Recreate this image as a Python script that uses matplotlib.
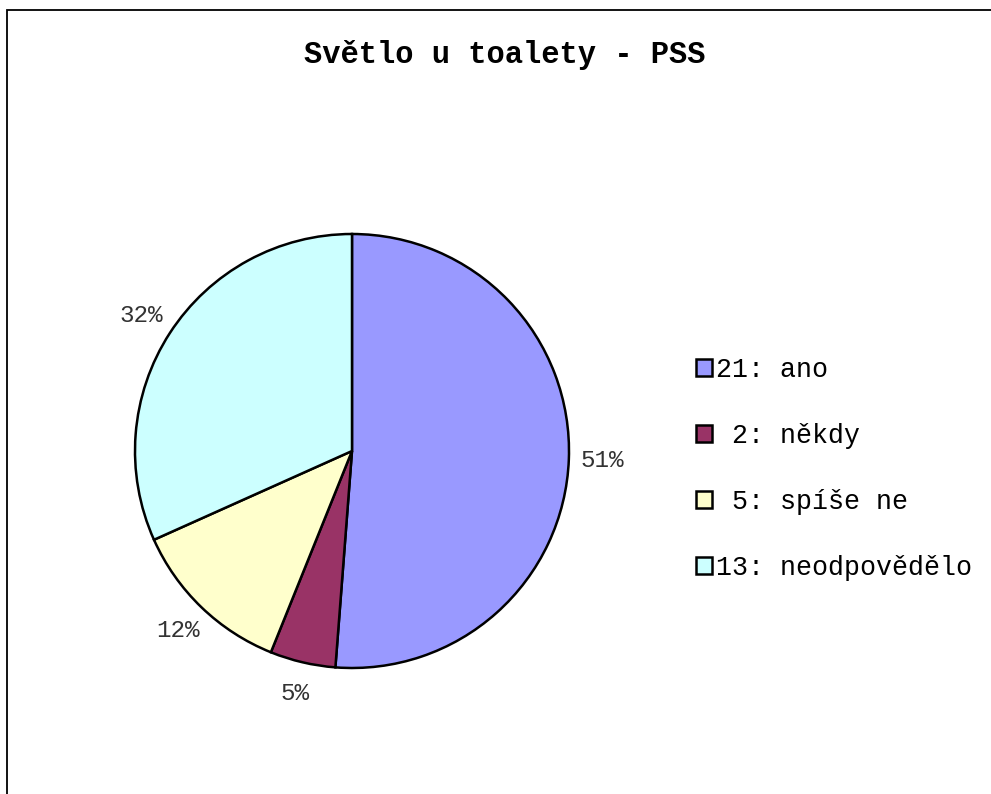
import matplotlib.pyplot as plt
from matplotlib.patches import Rectangle
import numpy as np

plt.rcParams['font.family'] = ['Liberation Mono', 'DejaVu Sans Mono']

title = "Světlo u toalety - PSS"
categories = ["ano", "někdy", "spíše ne", "neodpovědělo"]
counts = [21, 2, 5, 13]
colors = ["#9999FF", "#993366", "#FFFFCC", "#CCFFFF"]

W, H = 991, 794
fig = plt.figure(figsize=(W / 100, H / 100), dpi=100)

# outer chart frame (only top and left edges fall inside the image)
fig.patches.append(Rectangle((7 / W, -0.1), 1.2, (H - 10) / H + 0.1,
                             transform=fig.transFigure, fill=False,
                             edgecolor="black", linewidth=1.3))

cx, cy, r = 352, 451, 217
ax = fig.add_axes([(cx - r) / W, (H - cy - r) / H, 2 * r / W, 2 * r / H])

wedges, _ = ax.pie(counts, colors=colors, startangle=90, counterclock=False,
                   radius=1, wedgeprops=dict(edgecolor="black", linewidth=1.8))
ax.set_xlim(-1, 1)
ax.set_ylim(-1, 1)
ax.set_aspect("equal")
ax.axis("off")

# percentage labels just outside each slice
total = sum(counts)
for w, c in zip(wedges, counts):
    ang = np.deg2rad((w.theta1 + w.theta2) / 2)
    x, y = 1.155 * np.cos(ang), 1.15 * np.sin(ang)
    ax.text(x, y, f"{round(100 * c / total)}%", ha="center", va="center",
            fontsize=17.5, color="#333333", clip_on=False)

fig.text(505 / W, (H - 55) / H, title, ha="center", va="center",
         fontsize=22, fontweight="bold")

labels = [f"{c:>2}: {n}" for c, n in zip(counts, categories)]
leg = fig.legend(wedges, labels, loc="upper left",
                 bbox_to_anchor=(683 / W, (H - 344) / H), frameon=False,
                 fontsize=19.2, handlelength=0.6, handleheight=0.6,
                 handletextpad=0.15, labelspacing=1.5, borderpad=0)
for h in leg.legend_handles:
    h.set_linewidth(1.8)

fig.savefig("out.png", dpi=100)
